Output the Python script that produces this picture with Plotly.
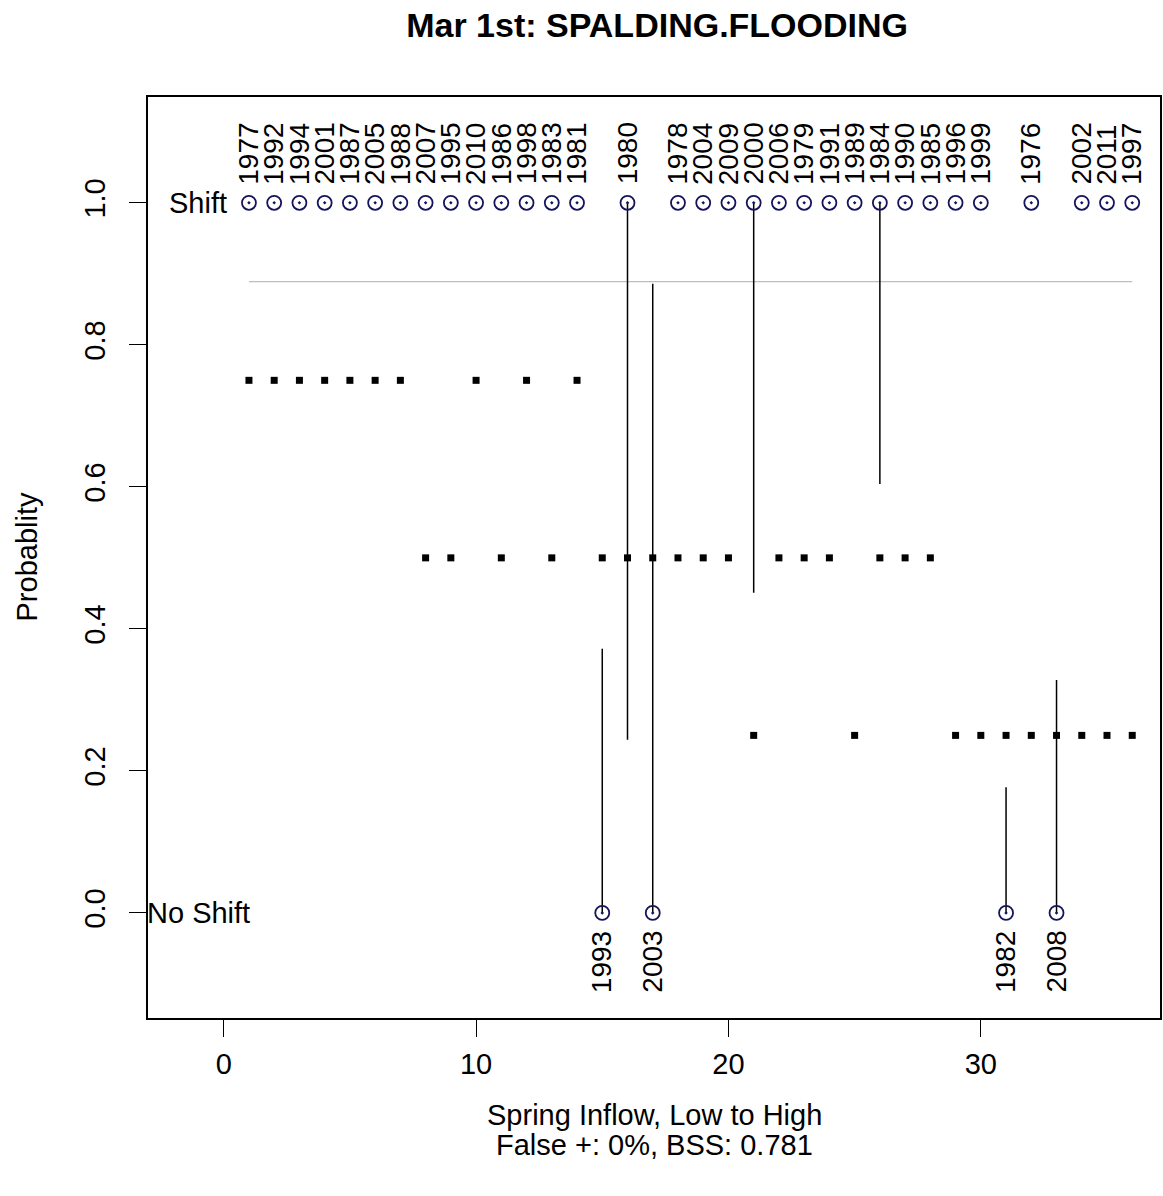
import plotly.graph_objects as go

# Data
rank = list(range(1, 37))
years = [1977, 1992, 1994, 2001, 1987, 2005, 1988, 2007, 1995, 2010, 1986, 1998, 1983, 1981,
         1993, 1980, 2003,
         1978, 2004, 2009, 2000, 2006, 1979, 1991, 1989, 1984, 1990, 1985, 1996, 1999,
         1982, 1976, 2008, 2002, 2011, 1997]
outcome = [1]*14 + [0, 1, 0] + [1]*13 + [0, 1, 0, 1, 1, 1]
prob = [0.75]*7 + [0.5, 0.5, 0.75, 0.5, 0.75, 0.5, 0.75] + [0.5]*6 + [0.25, 0.5, 0.5, 0.5, 0.25,
        0.5, 0.5, 0.5] + [0.25]*8
# Cross-validation segments (x, y start, y end)
seg_x = [15, 16, 17, 21, 26, 31, 33]
seg_y0 = [0, 1, 0, 1, 1, 0, 0]
seg_y1 = [0.372, 0.244, 0.886, 0.451, 0.604, 0.177, 0.328]
threshold = 0.889

FONT = "Liberation Sans, Arial, Helvetica, sans-serif"
FS = 29
FS_YEAR = 28
fig = go.Figure()

# threshold line
fig.add_trace(go.Scatter(x=[rank[0], rank[-1]], y=[threshold, threshold], mode="lines",
                         line=dict(color="#bebebe", width=1.3), hoverinfo="skip"))

# segments
sx, sy = [], []
for x, a, b in zip(seg_x, seg_y0, seg_y1):
    sx += [x, x, None]
    sy += [a, b, None]
fig.add_trace(go.Scatter(x=sx, y=sy, mode="lines", line=dict(color="black", width=1.5),
                         hoverinfo="skip"))

# probability squares
fig.add_trace(go.Scatter(x=rank, y=prob, mode="markers",
                         marker=dict(symbol="square", size=7, color="black",
                                     line=dict(width=0))))

# outcome circles
fig.add_trace(go.Scatter(x=rank, y=outcome, mode="markers",
                         marker=dict(symbol="circle-open-dot", size=14, color="#14145a",
                                     line=dict(width=1.8, color="#14145a"))))

ann = []
for x, yv, yr in zip(rank, outcome, years):
    if yv == 1:
        ann.append(dict(x=x, y=yv, text=str(yr), textangle=-90, showarrow=False,
                        xanchor="center", yanchor="bottom", yshift=16,
                        font=dict(size=FS_YEAR, color="black", family=FONT)))
    else:
        ann.append(dict(x=x, y=yv, text=str(yr), textangle=-90, showarrow=False,
                        xanchor="center", yanchor="top", yshift=-16,
                        font=dict(size=FS_YEAR, color="black", family=FONT)))
ann.append(dict(x=-1, y=1, text="Shift", showarrow=False, xanchor="center", yanchor="middle",
                font=dict(size=FS, color="black", family=FONT)))
ann.append(dict(x=-1, y=0, text="No Shift", showarrow=False, xanchor="center", yanchor="middle",
                font=dict(size=FS, color="black", family=FONT)))
# x axis title (two lines)
ann.append(dict(xref="paper", yref="paper", x=0.5, y=0, yshift=-97, xanchor="center",
                yanchor="middle", showarrow=False, text="Spring Inflow, Low to High",
                font=dict(size=FS, color="black", family=FONT)))
ann.append(dict(xref="paper", yref="paper", x=0.5, y=0, yshift=-127, xanchor="center",
                yanchor="middle", showarrow=False, text="False +: 0%, BSS: 0.781",
                font=dict(size=FS, color="black", family=FONT)))
# y axis title
ann.append(dict(xref="paper", yref="paper", x=0, xshift=-122, y=0.5, xanchor="center",
                yanchor="middle", showarrow=False, text="Probablity", textangle=-90,
                font=dict(size=FS, color="black", family=FONT)))

fig.update_layout(
    width=1163, height=1196,
    margin=dict(l=148, r=1, t=97, b=178),
    paper_bgcolor="white", plot_bgcolor="white",
    showlegend=False,
    title=dict(text="<b>Mar 1st: SPALDING.FLOODING</b>", x=0.565, xanchor="center",
               y=1 - 25/1196, yanchor="middle",
               font=dict(size=34, color="black", family=FONT)),
    font=dict(family=FONT, color="black", size=FS),
    annotations=ann,
)
fig.update_xaxes(range=[-3.0, 37.1], tickvals=[0, 10, 20, 30], ticks="outside", ticklen=17,
                 tickwidth=1.3, tickcolor="black", showgrid=False, zeroline=False,
                 showline=True, linecolor="black", linewidth=2, mirror=True,
                 ticklabelstandoff=2,
                 tickfont=dict(size=FS, family=FONT, color="black"))
fig.update_yaxes(range=[-0.148, 1.149], tickvals=[0, 0.2, 0.4, 0.6, 0.8, 1.0], tickformat=".1f",
                 ticks="outside", ticklen=17, tickwidth=1.3, tickcolor="black", showgrid=False,
                 zeroline=False, showline=True, linecolor="black", linewidth=2, mirror=True,
                 tickangle=-90, ticklabelstandoff=12,
                 tickfont=dict(size=FS, family=FONT, color="black"))

fig.write_html("out.html")
